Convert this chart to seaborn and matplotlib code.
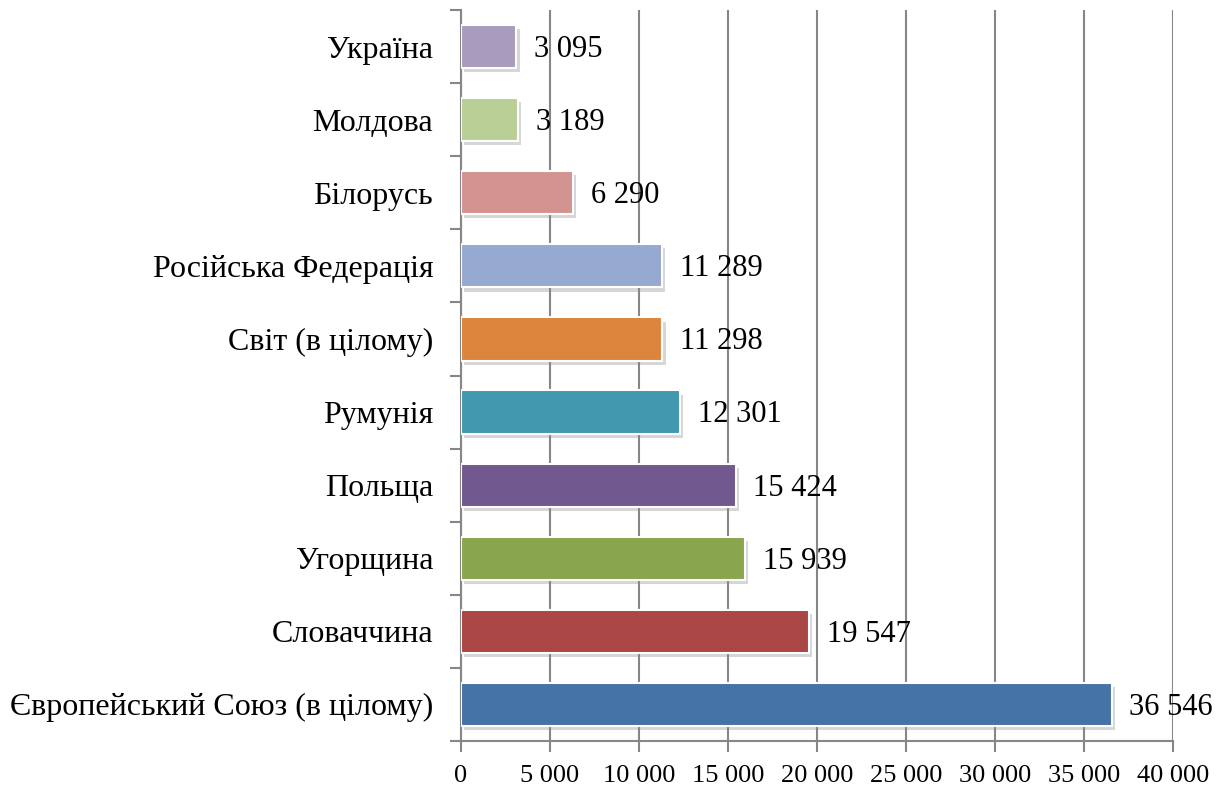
import matplotlib
matplotlib.use("Agg")
import matplotlib.pyplot as plt
import matplotlib.patheffects as pe
from matplotlib.ticker import FixedLocator, FuncFormatter
import seaborn as sns
import pandas as pd

categories = ["Україна", "Молдова", "Білорусь", "Російська Федерація", "Світ (в цілому)",
              "Румунія", "Польща", "Угорщина", "Словаччина", "Європейський Союз (в цілому)"]
values = [3095, 3189, 6290, 11289, 11298, 12301, 15424, 15939, 19547, 36546]
colors = ["#A99BBD", "#BACF96", "#D39391", "#95A9D1", "#DD843C",
          "#4198AF", "#71588F", "#89A54E", "#AA4643", "#4572A7"]
x_ticks = [0, 5000, 10000, 15000, 20000, 25000, 30000, 35000, 40000]

sns.set_theme(style="white")
plt.rcParams['font.family'] = ['Liberation Serif', 'DejaVu Serif']
plt.rcParams['text.color'] = 'black'
plt.rcParams['xtick.labelcolor'] = 'black'
plt.rcParams['ytick.labelcolor'] = 'black'

df = pd.DataFrame({"cat": categories, "val": values})

fig = plt.figure(figsize=(12.32, 7.87), dpi=100)
ax = fig.add_axes([461/1232, 1 - 741/787, 712/1232, 731/787])

sns.barplot(data=df, y="cat", x="val", hue="cat", palette=colors, order=categories,
            hue_order=categories, orient="h", width=0.59, legend=False, ax=ax,
            saturation=1, edgecolor="white", linewidth=1.5, zorder=3)

for p in ax.patches:
    p.set_path_effects([pe.SimplePatchShadow(offset=(2.5, -3), shadow_rgbFace="#8a8a8a", alpha=0.35),
                        pe.Normal()])

fmt = lambda v: f"{int(v):,}".replace(",", " ")
for i, v in enumerate(values):
    ax.text(v + 1000, i + 0.04, fmt(v), va="center", ha="left", fontsize=22, color="black", zorder=5)

ax.set_xlim(0, 40000)
ax.set_ylim(9.5, -0.5)
ax.xaxis.set_major_locator(FixedLocator(x_ticks))
ax.xaxis.set_major_formatter(FuncFormatter(lambda v, _: fmt(v)))
ax.grid(axis="x", color="#868686", linewidth=1.5, zorder=0)
ax.set_axisbelow(True)

ax.set_yticks(range(len(categories)))
ax.set_yticklabels(categories)
ax.yaxis.set_minor_locator(FixedLocator([i - 0.5 for i in range(len(categories) + 1)]))
ax.tick_params(axis="y", which="major", length=0, pad=20, labelsize=23, labelcolor="black")
ax.tick_params(axis="y", which="minor", length=8, width=1.5, color="#868686", left=True)
ax.tick_params(axis="x", which="major", length=8, width=1.5, color="#868686", bottom=True,
               labelsize=19, pad=9, labelcolor="black")
ax.set_xlabel("")
ax.set_ylabel("")

for s in ["top", "right"]:
    ax.spines[s].set_visible(False)
for s in ["left", "bottom"]:
    ax.spines[s].set_color("#868686")
    ax.spines[s].set_linewidth(1.5)

fig.savefig("out.png", dpi=100)
